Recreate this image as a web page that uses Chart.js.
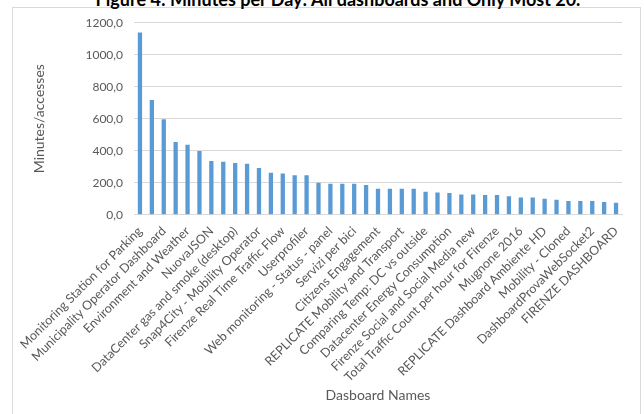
<!DOCTYPE html>
<html>
<head>
<meta charset="utf-8">
<script src="https://cdn.jsdelivr.net/npm/chart.js@4"></script>
<style>
  html, body { margin: 0; padding: 0; background: #fff; overflow: hidden; }
  #wrap { position: relative; width: 644px; height: 414px; overflow: hidden; }
  #frame { position: absolute; left: 12px; top: 7px; width: 629px; height: 420px; border: 1px solid #d9d9d9; box-sizing: border-box; }
  #title { position: absolute; left: 0; width: 676px; top: -10px; text-align: center; font: bold 18px Lato, "Liberation Sans", sans-serif; line-height: 18px; color: #000; white-space: nowrap; }
  #c { position: absolute; left: 0; top: 0; }
</style>
</head>
<body>
<div id="wrap">
  <div id="frame"></div>
  <div id="title">Figure 4: Minutes per Day: All dashboards and Only Most 20.</div>
  <canvas id="c" width="644" height="414"></canvas>
</div>
<script>
const categories = [
  "Monitoring Station for Parking", "",
  "Municipality Operator Dashboard", "",
  "Environment and Weather", "",
  "NuovaJSON", "",
  "DataCenter gas and smoke (desktop)", "",
  "Snap4City - Mobility Operator", "",
  "Firenze Real Time Traffic Flow", "",
  "Userprofiler", "",
  "Web monitoring - Status - panel", "",
  "Servizi per bici", "",
  "Citizens Engagement", "",
  "REPLICATE Mobility and Transport", "",
  "Comparing Temp: DC vs outside", "",
  "Datacenter Energy Consumption", "",
  "Firenze Social and Social Media new", "",
  "Total Traffic Count per hour for Firenze", "",
  "Mugnone 2016", "",
  "REPLICATE Dashboard Ambiente HD", "",
  "Mobility - Cloned", "",
  "DashboardProvaWebSocket2", "",
  "FIRENZE DASHBOARD"
];
const minutesPerAccess = [
  1139, 717, 596, 454, 437, 398, 335, 331, 323, 319,
  292, 262, 258, 246, 246, 200, 194, 194, 194, 185,
  162, 162, 162, 162, 144, 139, 135, 127, 127, 123,
  123, 115, 108, 108, 100, 94, 85, 85, 85, 79,
  75
];
const yTicks = [0, 200, 400, 600, 800, 1000, 1200];
const xAxisTitle = "Dasboard Names";
const yAxisTitle = "Minutes/accesses";

const grey = '#595959';
const gridCol = '#d9d9d9';
const fam = 'Lato, "Liberation Sans", sans-serif';

new Chart(document.getElementById('c'), {
  type: 'bar',
  data: {
    labels: categories,
    datasets: [{
      data: minutesPerAccess,
      backgroundColor: '#5b9bd5',
      borderWidth: 0,
      barPercentage: 0.36,
      categoryPercentage: 1.0
    }]
  },
  options: {
    responsive: false,
    animation: false,
    devicePixelRatio: 1,
    layout: { padding: { left: 31, right: 22, top: 22.7, bottom: 10 } },
    plugins: { legend: { display: false }, title: { display: false }, tooltip: { enabled: false } },
    scales: {
      x: {
        grid: { display: false, drawTicks: false },
        border: { display: true, color: gridCol, width: 1 },
        ticks: {
          autoSkip: false, minRotation: 45, maxRotation: 45, padding: 9,
          color: grey, font: { family: fam, size: 12.5 }
        },
        title: { display: true, text: xAxisTitle, color: grey, font: { family: fam, size: 14 }, padding: { top: 0, bottom: 0 } },
        afterFit: (s) => { s.height = 189.3; s.paddingLeft = 0; s.paddingRight = 0; }
      },
      y: {
        min: 0, max: 1200,
        afterBuildTicks: (s) => { s.ticks = yTicks.map(v => ({ value: v })); },
        grid: { color: gridCol, lineWidth: 1, drawTicks: false },
        border: { display: false },
        ticks: {
          padding: 11, color: grey, font: { family: fam, size: 12 },
          callback: (v) => Number(v).toFixed(1).replace('.', ',')
        },
        title: { display: true, text: yAxisTitle, color: grey, font: { family: fam, size: 14 }, padding: { top: 0, bottom: 0 } },
        afterFit: (s) => { s.width = 103; s.paddingTop = 0; s.paddingBottom = 0; }
      }
    }
  }
});
</script>
</body>
</html>
